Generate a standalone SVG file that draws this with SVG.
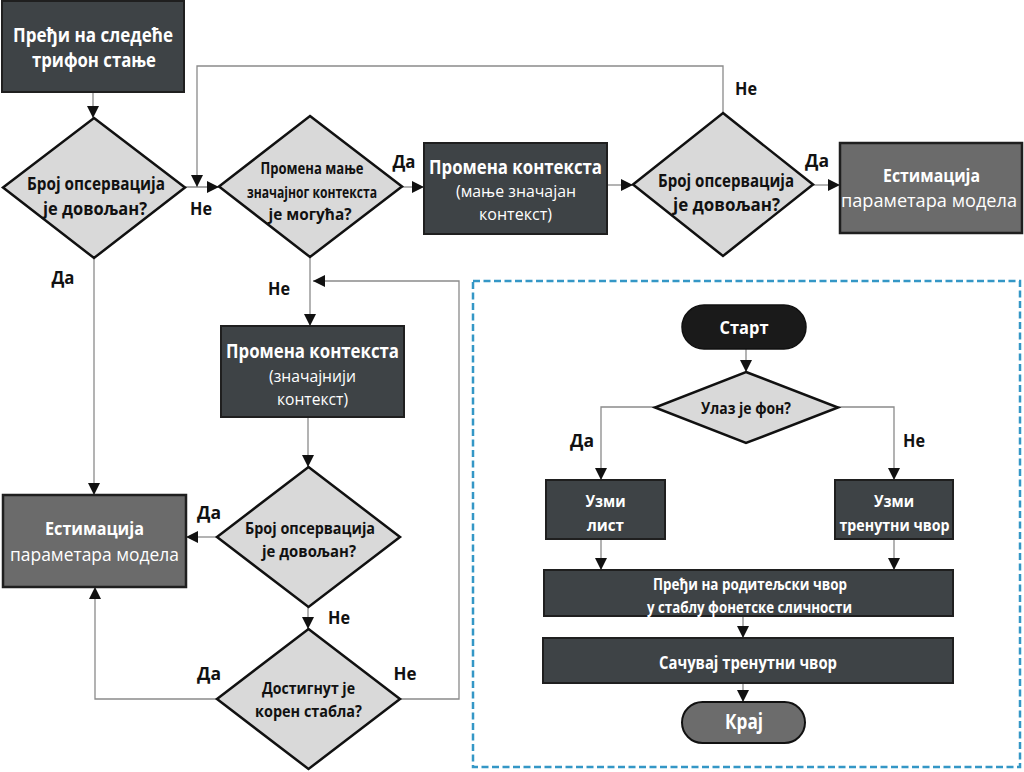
<svg xmlns="http://www.w3.org/2000/svg" width="1024" height="772" viewBox="0 0 1024 772">
<defs>
<marker id="arr" viewBox="0 0 10 10" refX="10" refY="5" markerWidth="12" markerHeight="12" markerUnits="userSpaceOnUse" orient="auto">
<path d="M0,0 L10,5 L0,10 z" fill="#111"/>
</marker>
<style>
.t{font-family:"Open Sans","DejaVu Sans",sans-serif;text-anchor:middle}
.b{font-weight:bold}
.n{font-weight:normal}
.w{fill:#fff}
.k{fill:#111}
.box{fill:#3e4346;stroke:#1f1f1f;stroke-width:2}
.gbox{fill:#6b6b6b;stroke:#1f1f1f;stroke-width:2.5}
.dia{fill:#d9d9d9;stroke:#111;stroke-width:2.5}
.con{fill:none;stroke:#8a8a8a;stroke-width:1.3;marker-end:url(#arr)}
.lbl{font-family:"Open Sans","DejaVu Sans",sans-serif;font-weight:bold;font-size:18px;fill:#111;text-anchor:middle}
</style>
</defs>
<rect width="1024" height="772" fill="#fff"/>

<g id="connectors">
<path class="con" d="M93,92 V118"/>
<path class="con" d="M185,187 H219"/>
<path class="con" d="M723,113 V66 H197 V187"/>
<path class="con" d="M402,187 H424"/>
<path class="con" d="M607,185 H633"/>
<path class="con" d="M813,185 H840"/>
<path class="con" d="M94,258 V495"/>
<path class="con" d="M310,257 V326"/>
<path class="con" d="M308,417 V467"/>
<path class="con" d="M217,537 H186"/>
<path class="con" d="M308,607 V629"/>
<path class="con" d="M217,699 H95 V587"/>
<path class="con" d="M400,699 H459 V281 H313"/>
<path class="con" d="M746,349 V372"/>
<path class="con" d="M655,407 H601 V480"/>
<path class="con" d="M838,407 H894 V480"/>
<path class="con" d="M601,539 V570"/>
<path class="con" d="M894,539 V570"/>
<path class="con" d="M743,616 V638"/>
<path class="con" d="M743,683 V702"/>
</g>

<g id="labels">
<text class="lbl" x="201" y="215" textLength="22" lengthAdjust="spacingAndGlyphs">Не</text>
<text class="lbl" x="63" y="284" textLength="23" lengthAdjust="spacingAndGlyphs">Да</text>
<text class="lbl" x="404" y="168" textLength="23" lengthAdjust="spacingAndGlyphs">Да</text>
<text class="lbl" x="279" y="295" textLength="22" lengthAdjust="spacingAndGlyphs">Не</text>
<text class="lbl" x="746" y="95" textLength="22" lengthAdjust="spacingAndGlyphs">Не</text>
<text class="lbl" x="817" y="167" textLength="24" lengthAdjust="spacingAndGlyphs">Да</text>
<text class="lbl" x="209" y="519" textLength="24" lengthAdjust="spacingAndGlyphs">Да</text>
<text class="lbl" x="339" y="624" textLength="22" lengthAdjust="spacingAndGlyphs">Не</text>
<text class="lbl" x="209" y="680" textLength="24" lengthAdjust="spacingAndGlyphs">Да</text>
<text class="lbl" x="405" y="680" textLength="23" lengthAdjust="spacingAndGlyphs">Не</text>
<text class="lbl" x="582" y="447" textLength="24" lengthAdjust="spacingAndGlyphs">Да</text>
<text class="lbl" x="914" y="447" textLength="22" lengthAdjust="spacingAndGlyphs">Не</text>
</g>

<g id="n-start-state">
<rect class="box" x="2" y="1" width="182" height="91"/>
<text class="t b w" x="93" y="42" font-size="19.5" textLength="160" lengthAdjust="spacingAndGlyphs">Пређи на следеће</text>
<text class="t b w" x="94" y="67" font-size="19.5" textLength="124" lengthAdjust="spacingAndGlyphs">трифон стање</text>
</g>

<g id="n-dec1">
<polygon class="dia" points="94,118 185,187.5 94,258 3,187.5"/>
<text class="t b k" x="96" y="190" font-size="17.5" textLength="138" lengthAdjust="spacingAndGlyphs">Број опсервација</text>
<text class="t b k" x="95" y="215" font-size="17.5" textLength="104" lengthAdjust="spacingAndGlyphs">је довољан?</text>
</g>

<g id="n-dec2">
<polygon class="dia" points="310,116 402,186.5 310,257 219,186.5"/>
<text class="t b k" x="312" y="174" font-size="15.5" textLength="103" lengthAdjust="spacingAndGlyphs">Промена мање</text>
<text class="t b k" x="312" y="198" font-size="15.5" textLength="130" lengthAdjust="spacingAndGlyphs">значајног контекста</text>
<text class="t b k" x="310" y="220" font-size="15.5" textLength="83" lengthAdjust="spacingAndGlyphs">је могућа?</text>
</g>

<g id="n-ctx1">
<rect class="box" x="424" y="143" width="183" height="91"/>
<text class="t b w" x="515.5" y="174" font-size="19" textLength="173" lengthAdjust="spacingAndGlyphs">Промена контекста</text>
<text class="t n w" x="516" y="197" font-size="17" textLength="120" lengthAdjust="spacingAndGlyphs">(мање значајан</text>
<text class="t n w" x="515.5" y="220" font-size="17" textLength="73" lengthAdjust="spacingAndGlyphs">контекст)</text>
</g>

<g id="n-dec3">
<polygon class="dia" points="723,113 813,184.5 723,256 633,184.5"/>
<text class="t b k" x="726" y="187" font-size="17.5" textLength="136" lengthAdjust="spacingAndGlyphs">Број опсервација</text>
<text class="t b k" x="726.5" y="211" font-size="17.5" textLength="107" lengthAdjust="spacingAndGlyphs">је довољан?</text>
</g>

<g id="n-est1">
<rect class="gbox" x="840" y="143" width="182" height="90"/>
<text class="t b w" x="931.5" y="182" font-size="18.5" textLength="97" lengthAdjust="spacingAndGlyphs">Естимација</text>
<text class="t n w" x="929" y="207" font-size="18" textLength="176" lengthAdjust="spacingAndGlyphs">параметара модела</text>
</g>

<g id="n-ctx2">
<rect class="box" x="221" y="326" width="183" height="91"/>
<text class="t b w" x="312.5" y="358" font-size="19" textLength="173" lengthAdjust="spacingAndGlyphs">Промена контекста</text>
<text class="t n w" x="312.5" y="382" font-size="17" textLength="87" lengthAdjust="spacingAndGlyphs">(значајнији</text>
<text class="t n w" x="312.5" y="405" font-size="17" textLength="71" lengthAdjust="spacingAndGlyphs">контекст)</text>
</g>

<g id="n-est2">
<rect class="gbox" x="3" y="495" width="183" height="92"/>
<text class="t b w" x="94.5" y="535" font-size="18.5" textLength="99" lengthAdjust="spacingAndGlyphs">Естимација</text>
<text class="t n w" x="94.5" y="561" font-size="18" textLength="169" lengthAdjust="spacingAndGlyphs">параметара модела</text>
</g>

<g id="n-dec4">
<polygon class="dia" points="308.5,467 400,537 308.5,607 217,537"/>
<text class="t b k" x="310" y="534" font-size="16.5" textLength="130" lengthAdjust="spacingAndGlyphs">Број опсервација</text>
<text class="t b k" x="309" y="557" font-size="16.5" textLength="94" lengthAdjust="spacingAndGlyphs">је довољан?</text>
</g>

<g id="n-dec5">
<polygon class="dia" points="308.5,629 400,699 308.5,769 217,699"/>
<text class="t b k" x="308.5" y="694" font-size="16.5" textLength="93" lengthAdjust="spacingAndGlyphs">Достигнут је</text>
<text class="t b k" x="308.5" y="717" font-size="16.5" textLength="107" lengthAdjust="spacingAndGlyphs">корен стабла?</text>
</g>

<g id="panel">
<rect x="473" y="281" width="547" height="486" fill="none" stroke="#3497c6" stroke-width="2.5" stroke-dasharray="7,3.5"/>
</g>

<g id="n-start">
<rect x="682" y="305" width="124" height="44" rx="22" fill="#1a1a1a" stroke="#111" stroke-width="1.5"/>
<text class="t b w" x="744" y="334" font-size="17.5" textLength="49" lengthAdjust="spacingAndGlyphs">Старт</text>
</g>

<g id="n-input">
<polygon class="dia" points="746,372 838,407.5 746,443 655,407.5"/>
<text class="t b k" x="746" y="414" font-size="16.5" textLength="90" lengthAdjust="spacingAndGlyphs">Улаз је фон?</text>
</g>

<g id="n-leaf">
<rect class="box" x="546" y="480" width="119" height="59"/>
<text class="t b w" x="605.5" y="507" font-size="16.5" textLength="40" lengthAdjust="spacingAndGlyphs">Узми</text>
<text class="t b w" x="605.5" y="531" font-size="16.5" textLength="37" lengthAdjust="spacingAndGlyphs">лист</text>
</g>

<g id="n-current">
<rect class="box" x="835" y="480" width="118" height="59"/>
<text class="t b w" x="894" y="507" font-size="16.5" textLength="40" lengthAdjust="spacingAndGlyphs">Узми</text>
<text class="t b w" x="894.5" y="531" font-size="16.5" textLength="110" lengthAdjust="spacingAndGlyphs">тренутни чвор</text>
</g>

<g id="n-parent">
<rect class="box" x="544" y="570" width="409" height="46"/>
<text class="t b w" x="750" y="590" font-size="15.5" textLength="194" lengthAdjust="spacingAndGlyphs">Пређи на родитељски чвор</text>
<text class="t b w" x="749.5" y="613" font-size="15.5" textLength="205" lengthAdjust="spacingAndGlyphs">у стаблу фонетске сличности</text>
</g>

<g id="n-save">
<rect class="box" x="543" y="638" width="410" height="45"/>
<text class="t b w" x="748" y="669" font-size="17.5" textLength="178" lengthAdjust="spacingAndGlyphs">Сачувај тренутни чвор</text>
</g>

<g id="n-end">
<rect x="682" y="702" width="123" height="41" rx="20.5" fill="#6c6c6c" stroke="#111" stroke-width="2"/>
<text class="t b w" x="744" y="729" font-size="21" textLength="38" lengthAdjust="spacingAndGlyphs">Крај</text>
</g>
</svg>
